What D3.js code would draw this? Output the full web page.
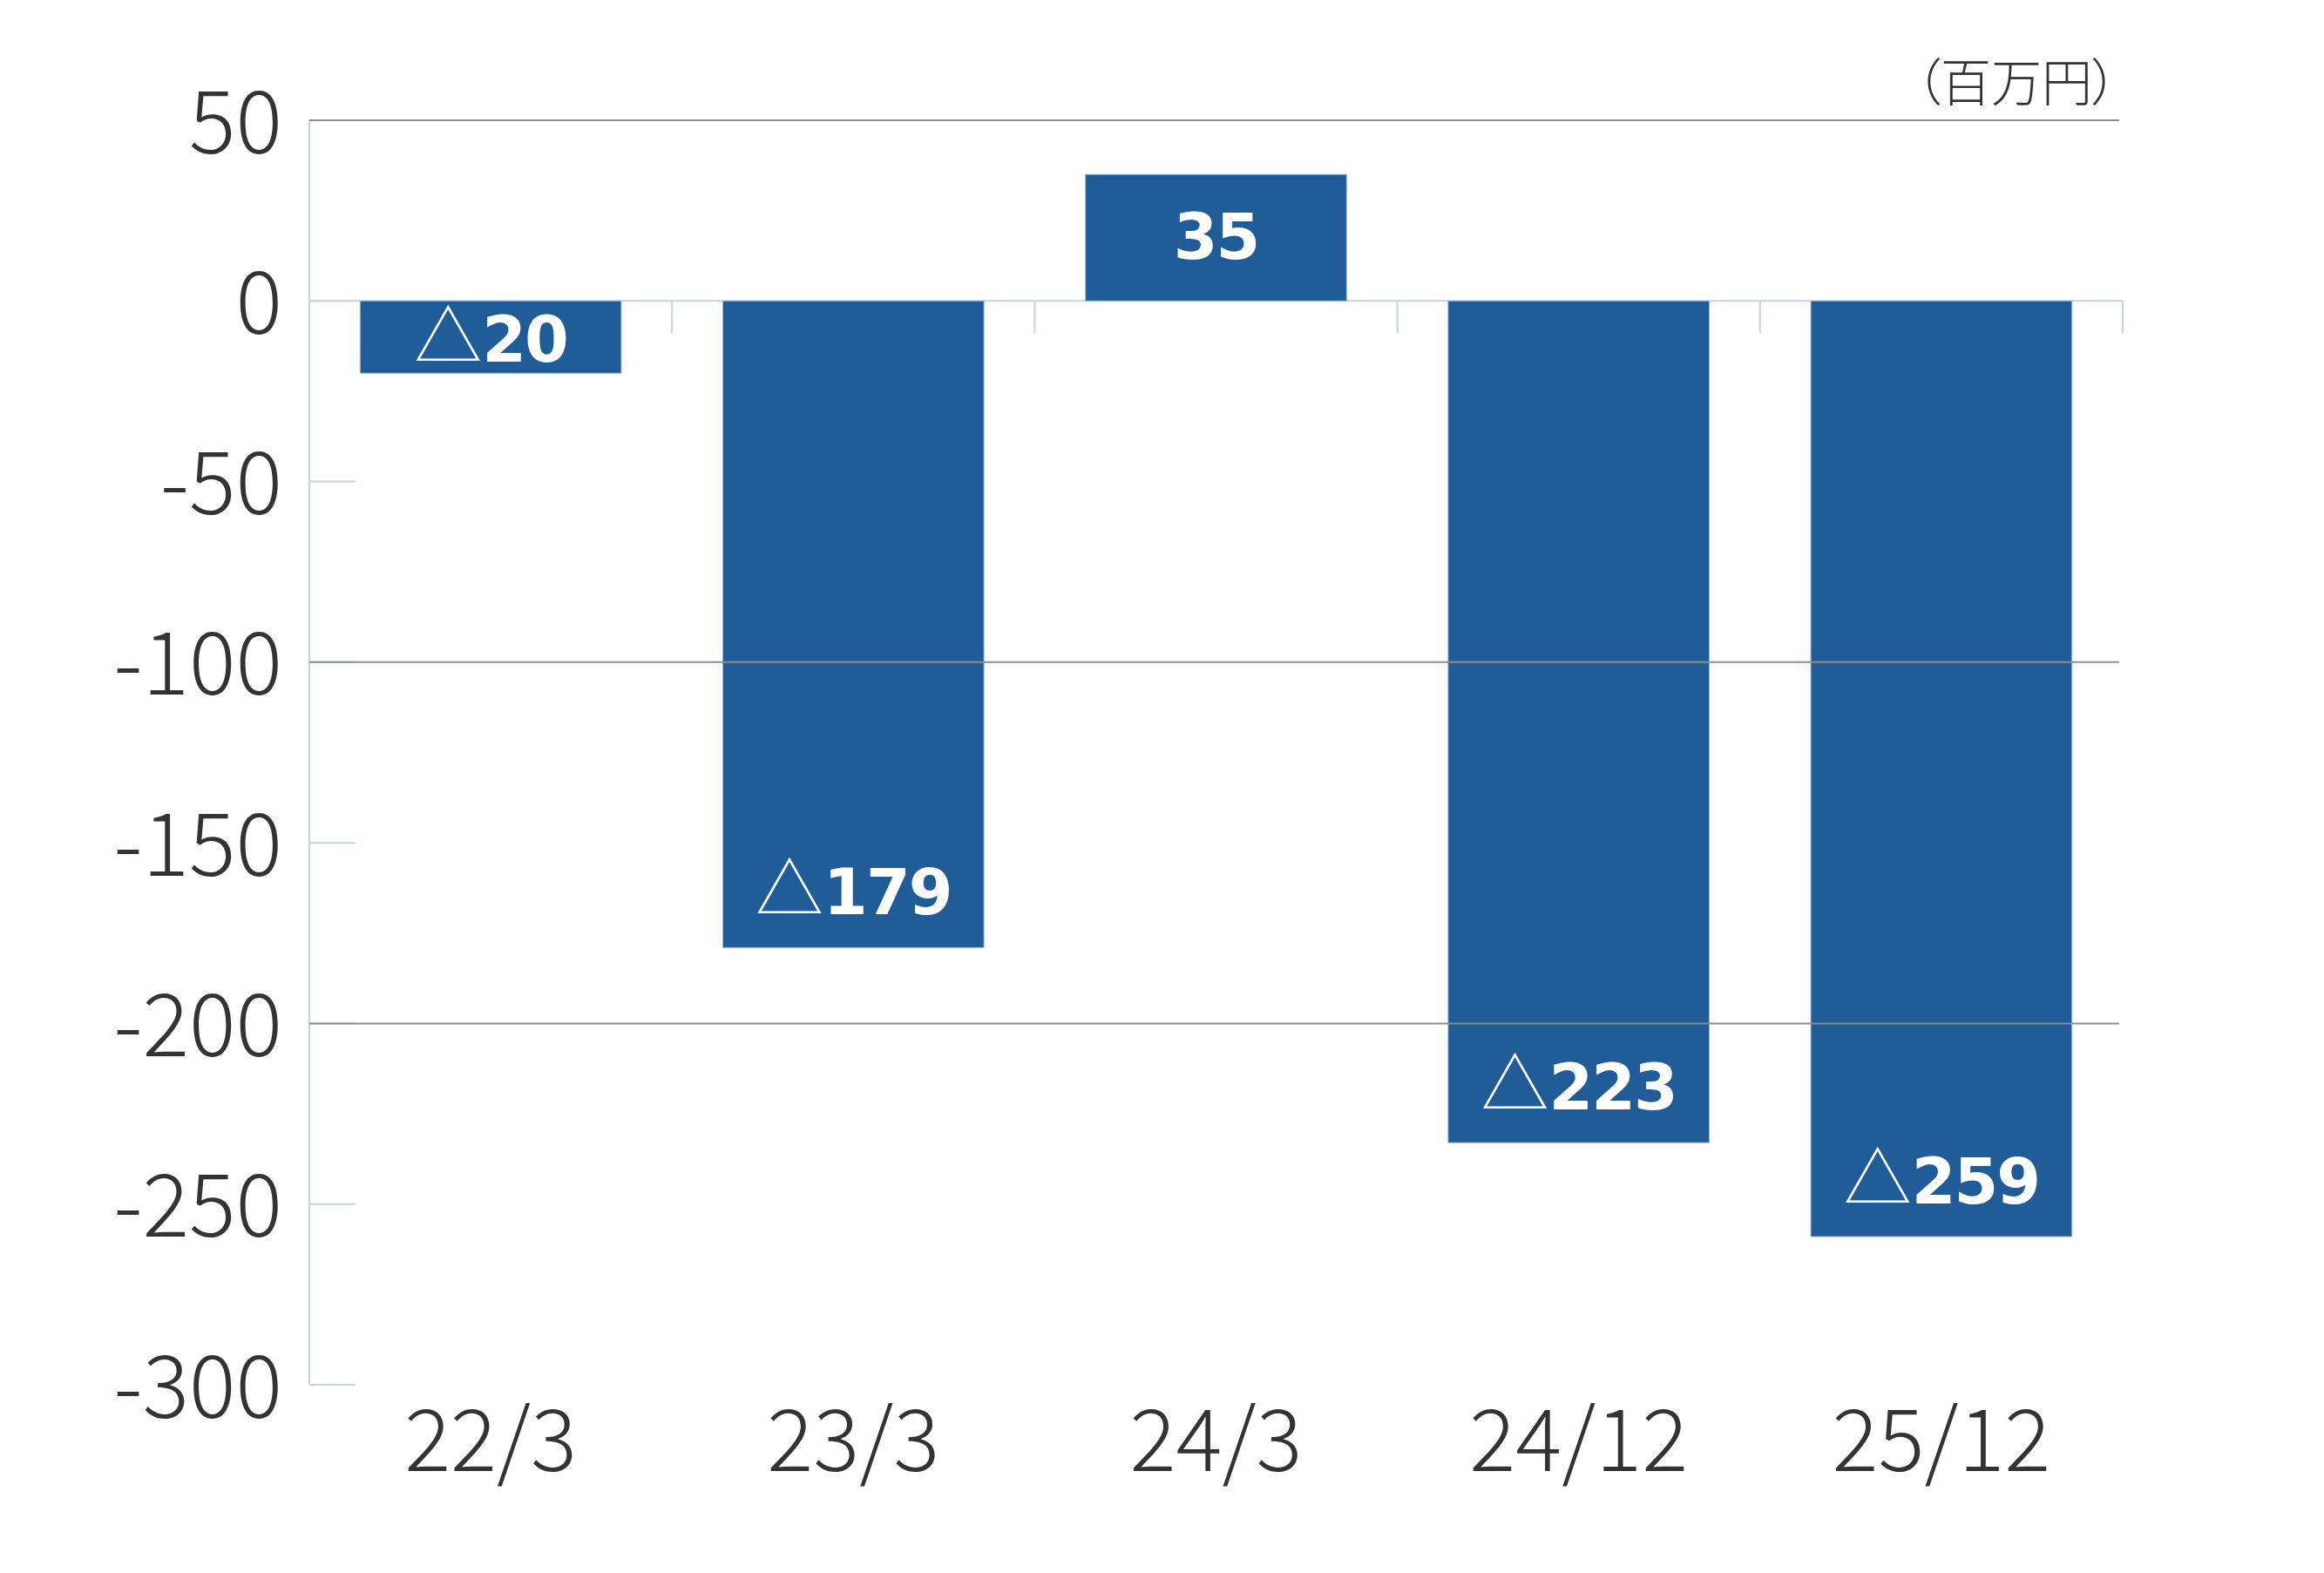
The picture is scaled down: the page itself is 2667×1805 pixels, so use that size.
<!DOCTYPE html>
<html>
<head>
<meta charset="utf-8">
<script src="https://cdn.jsdelivr.net/npm/d3@7"></script>
<style>
  html, body { margin: 0; padding: 0; background: #ffffff; }
  svg { display: block; }
</style>
</head>
<body>
<svg id="chart" width="2667" height="1805"></svg>
<script>
// ---- data ----
const categories = ["22/3", "23/3", "24/3", "24/12", "25/12"];
const values = [-20, -179, 35, -233, -259];
const labelMarks = ["△", "△", "", "△", "△"];
const labelNumbers = ["20", "179", "35", "223", "259"];
const yTicks = [50, 0, -50, -100, -150, -200, -250, -300];
const gridTicks = [50, -100, -200];
const unitLabel = "（百万円）";

(function () {
// ---- layout ----
const plotLeft = 355, plotRight = 2436, plotTop = 138, plotBottom = 1589;
const barColor = "#1f5c98";
const lightLine = "#c4d3e5";
const gridColor = "#8c8c8c";
const textColor = "#333333";
const axisFont = "'Noto Sans CJK JP', 'Noto Sans', sans-serif";

const svg = d3.select("#chart");

const y = d3.scaleLinear().domain([-300, 50]).range([plotBottom, plotTop]);
const x = d3.scaleBand().domain(categories).range([plotLeft, plotRight])
  .paddingInner(0.28).paddingOuter(0.14);

// y axis vertical line (light)
svg.append("line")
  .attr("x1", plotLeft).attr("x2", plotLeft)
  .attr("y1", y(50)).attr("y2", y(-300))
  .attr("stroke", lightLine).attr("stroke-width", 2);

// short light tick stubs
svg.append("g").selectAll("line").data(yTicks).join("line")
  .attr("x1", plotLeft).attr("x2", plotLeft + 53)
  .attr("y1", d => y(d)).attr("y2", d => y(d))
  .attr("stroke", lightLine).attr("stroke-width", 2);

// zero line (light)
svg.append("line")
  .attr("x1", plotLeft).attr("x2", plotRight)
  .attr("y1", y(0)).attr("y2", y(0))
  .attr("stroke", lightLine).attr("stroke-width", 2);

// category boundary ticks on the zero line
const boundaries = d3.range(categories.length + 1).map(i => x.range()[0] + i * x.step());
svg.append("g").selectAll("line").data(boundaries).join("line")
  .attr("x1", d => d).attr("x2", d => d)
  .attr("y1", y(0)).attr("y2", y(0) + 37)
  .attr("stroke", lightLine).attr("stroke-width", 2);

// bars
svg.append("g").selectAll("rect").data(values).join("rect")
  .attr("x", (d, i) => x(categories[i]))
  .attr("width", x.bandwidth())
  .attr("y", d => y(Math.max(0, d)))
  .attr("height", d => Math.abs(y(d) - y(0)))
  .attr("fill", barColor)
  .attr("stroke", "#9db6d4").attr("stroke-width", 1);

// gray gridlines (drawn over bars)
svg.append("g").selectAll("line").data(gridTicks).join("line")
  .attr("x1", plotLeft).attr("x2", plotRight - 4)
  .attr("y1", d => y(d)).attr("y2", d => y(d))
  .attr("stroke", gridColor).attr("stroke-width", 2);

// y axis labels
const yAxis = svg.append("g")
  .attr("transform", `translate(${plotLeft},0)`)
  .call(d3.axisLeft(y).tickValues(yTicks).tickSize(0).tickPadding(31)
    .tickFormat(d => String(d)));
yAxis.select(".domain").remove();
yAxis.selectAll("text")
  .attr("dy", null)
  .attr("y", 37)
  .attr("font-family", axisFont)
  .attr("font-weight", 300)
  .attr("font-size", 100)
  .attr("fill", textColor);

// x axis labels
const xAxis = svg.append("g")
  .attr("transform", `translate(0,${plotBottom})`)
  .call(d3.axisBottom(x).tickSize(0).tickPadding(0));
xAxis.select(".domain").remove();
xAxis.selectAll("text")
  .attr("dy", null)
  .attr("y", 99)
  .attr("font-family", axisFont)
  .attr("font-weight", 300)
  .attr("font-size", 99)
  .attr("fill", textColor);

// unit label
svg.append("text")
  .attr("x", 2430).attr("y", 116)
  .attr("text-anchor", "end")
  .attr("font-family", axisFont)
  .attr("font-weight", 300)
  .attr("font-size", 58)
  .style("font-feature-settings", "'palt'")
  .attr("fill", textColor)
  .text(unitLabel);

// value labels
const labels = svg.append("g").selectAll("text").data(values).join("text")
  .attr("x", (d, i) => x(categories[i]) + x.bandwidth() / 2)
  .attr("y", d => {
    const h = Math.abs(y(d) - y(0));
    if (d >= 0) return (y(d) + y(0)) / 2 + 24;
    if (h < 160) return (y(d) + y(0)) / 2 + 28;
    return y(d) - 38;
  })
  .attr("text-anchor", "middle")
  .attr("fill", "#ffffff");
labels.append("tspan")
  .attr("font-family", "'Noto Sans CJK JP', sans-serif")
  .attr("font-weight", 300)
  .attr("font-size", 78)
  .text((d, i) => labelMarks[i]);
labels.append("tspan")
  .attr("font-family", "'DejaVu Sans', 'Liberation Sans', sans-serif")
  .attr("font-weight", 700)
  .attr("font-size", 73)
  .attr("letter-spacing", -2)
  .text((d, i) => labelNumbers[i]);
})();
</script>
</body>
</html>
